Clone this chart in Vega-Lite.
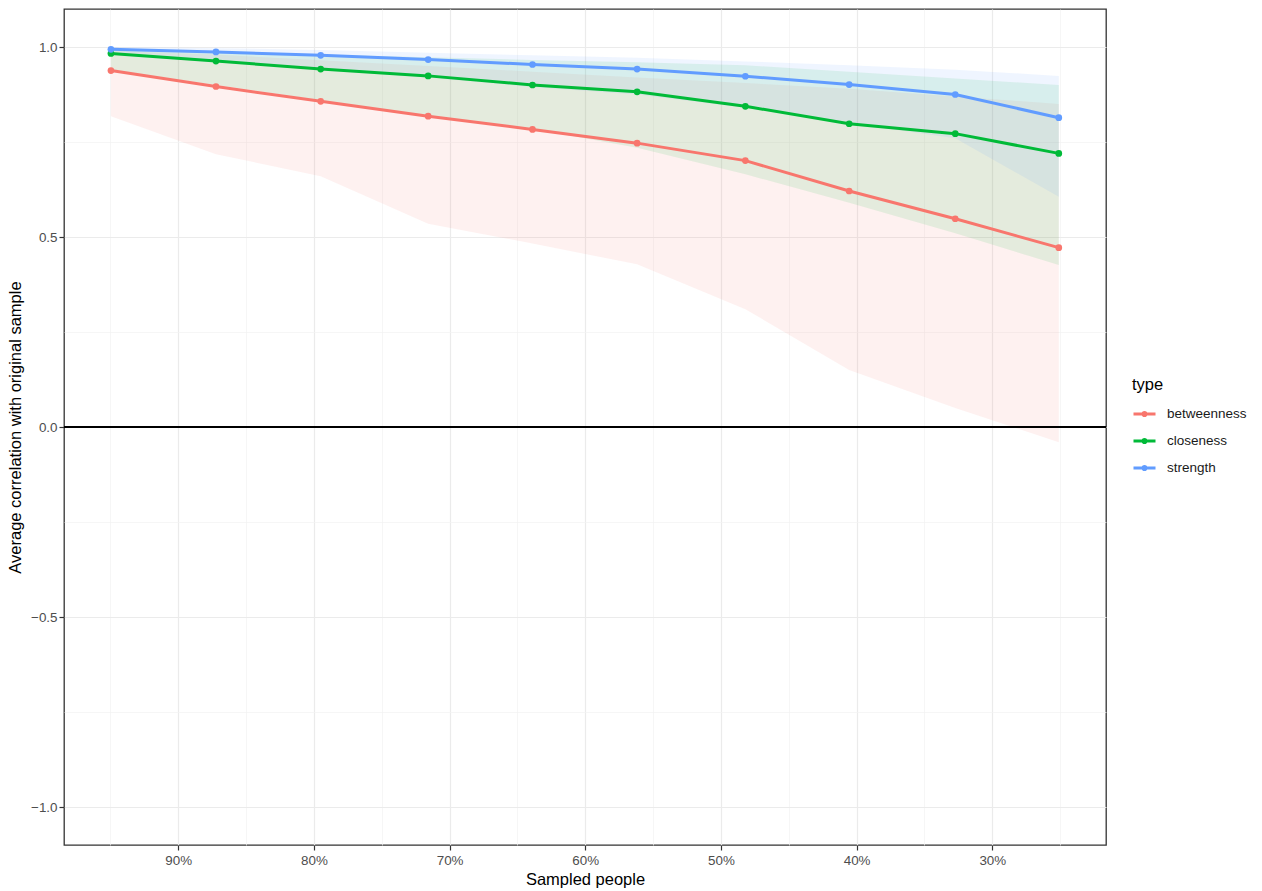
{
  "$schema": "https://vega.github.io/schema/vega-lite/v6.json",
  "width": 1042,
  "height": 836,
  "autosize": {"type": "none"},
  "padding": {"left": 64, "top": 9, "right": 156, "bottom": 46},
  "background": "white",
  "config": {
    "view": {"stroke": "#333333", "strokeWidth": 1.3},
    "font": "Liberation Sans",
    "axis": {
      "domain": false,
      "labelFont": "Liberation Sans",
      "labelFontSize": 13.4,
      "labelColor": "#4D4D4D",
      "tickColor": "#333333",
      "tickSize": 5,
      "tickWidth": 1.2,
      "titleFont": "Liberation Sans",
      "titleFontSize": 16.5,
      "titleFontWeight": "normal",
      "titleColor": "#000000"
    }
  },
  "data": {
    "values": [
      {"type": "betweenness", "sampled": 94.96, "mean": 0.938, "lower": 0.818, "upper": 0.99},
      {"type": "betweenness", "sampled": 87.22, "mean": 0.896, "lower": 0.718, "upper": 0.98},
      {"type": "betweenness", "sampled": 79.5, "mean": 0.857, "lower": 0.66, "upper": 0.965},
      {"type": "betweenness", "sampled": 71.58, "mean": 0.818, "lower": 0.535, "upper": 0.95},
      {"type": "betweenness", "sampled": 63.89, "mean": 0.783, "lower": 0.483, "upper": 0.935},
      {"type": "betweenness", "sampled": 56.18, "mean": 0.747, "lower": 0.428, "upper": 0.92},
      {"type": "betweenness", "sampled": 48.2, "mean": 0.701, "lower": 0.31, "upper": 0.905},
      {"type": "betweenness", "sampled": 40.55, "mean": 0.621, "lower": 0.15, "upper": 0.89},
      {"type": "betweenness", "sampled": 32.73, "mean": 0.548, "lower": 0.05, "upper": 0.87},
      {"type": "betweenness", "sampled": 25.1, "mean": 0.472, "lower": -0.04, "upper": 0.85},
      {"type": "closeness", "sampled": 94.96, "mean": 0.983, "lower": 0.94, "upper": 0.995},
      {"type": "closeness", "sampled": 87.22, "mean": 0.963, "lower": 0.9, "upper": 0.988},
      {"type": "closeness", "sampled": 79.5, "mean": 0.942, "lower": 0.86, "upper": 0.98},
      {"type": "closeness", "sampled": 71.58, "mean": 0.924, "lower": 0.82, "upper": 0.973},
      {"type": "closeness", "sampled": 63.89, "mean": 0.9, "lower": 0.785, "upper": 0.966},
      {"type": "closeness", "sampled": 56.18, "mean": 0.882, "lower": 0.735, "upper": 0.96},
      {"type": "closeness", "sampled": 48.2, "mean": 0.844, "lower": 0.665, "upper": 0.952},
      {"type": "closeness", "sampled": 40.55, "mean": 0.798, "lower": 0.59, "upper": 0.935},
      {"type": "closeness", "sampled": 32.73, "mean": 0.772, "lower": 0.51, "upper": 0.917},
      {"type": "closeness", "sampled": 25.1, "mean": 0.72, "lower": 0.426, "upper": 0.9},
      {"type": "strength", "sampled": 94.96, "mean": 0.994, "lower": 0.98, "upper": 1.0},
      {"type": "strength", "sampled": 87.22, "mean": 0.987, "lower": 0.96, "upper": 0.997},
      {"type": "strength", "sampled": 79.5, "mean": 0.978, "lower": 0.94, "upper": 0.992},
      {"type": "strength", "sampled": 71.58, "mean": 0.967, "lower": 0.92, "upper": 0.985},
      {"type": "strength", "sampled": 63.89, "mean": 0.954, "lower": 0.895, "upper": 0.978},
      {"type": "strength", "sampled": 56.18, "mean": 0.942, "lower": 0.875, "upper": 0.972},
      {"type": "strength", "sampled": 48.2, "mean": 0.923, "lower": 0.84, "upper": 0.962},
      {"type": "strength", "sampled": 40.55, "mean": 0.901, "lower": 0.8, "upper": 0.952},
      {"type": "strength", "sampled": 32.73, "mean": 0.875, "lower": 0.76, "upper": 0.94},
      {"type": "strength", "sampled": 25.1, "mean": 0.814, "lower": 0.606, "upper": 0.924}
    ]
  },
  "layer": [
    {
      "mark": {"type": "area", "fillOpacity": 0.1},
      "encoding": {
        "x": {
          "field": "sampled",
          "type": "quantitative",
          "scale": {"domain": [21.62, 98.42], "reverse": true, "nice": false, "zero": false},
          "axis": {
            "title": "Sampled people",
            "values": [25, 30, 35, 40, 45, 50, 55, 60, 65, 70, 75, 80, 85, 90, 95],
            "labelExpr": "datum.value % 10 === 0 ? datum.value + '%' : ''",
            "labelOverlap": false,
            "labelFlush": false,
            "labelPadding": 3,
            "titlePadding": 5,
            "grid": true,
            "tickOpacity": {"condition": {"test": "datum.value % 10 === 0", "value": 1}, "value": 0},
            "gridColor": {"condition": {"test": "datum.value % 10 === 0", "value": "#EBEBEB"}, "value": "#F2F2F2"},
            "gridWidth": {"condition": {"test": "datum.value % 10 === 0", "value": 1.2}, "value": 0.7}
          }
        },
        "y": {
          "field": "lower",
          "type": "quantitative",
          "scale": {"domain": [-1.1, 1.1], "nice": false, "zero": false},
          "axis": {
            "title": "Average correlation with original sample",
            "values": [-1, -0.75, -0.5, -0.25, 0, 0.25, 0.5, 0.75, 1],
            "labelExpr": "datum.value % 0.5 === 0 ? format(datum.value, '.1f') : ''",
            "labelOverlap": false,
            "labelFlush": false,
            "labelPadding": 2,
            "titlePadding": 7,
            "grid": true,
            "tickOpacity": {"condition": {"test": "datum.value % 0.5 === 0", "value": 1}, "value": 0},
            "gridColor": {"condition": {"test": "datum.value % 0.5 === 0", "value": "#EBEBEB"}, "value": "#F2F2F2"},
            "gridWidth": {"condition": {"test": "datum.value % 0.5 === 0", "value": 1.2}, "value": 0.7}
          }
        },
        "y2": {"field": "upper"},
        "color": {
          "field": "type",
          "type": "nominal",
          "scale": {"domain": ["betweenness", "closeness", "strength"], "range": ["#F8766D", "#00BA38", "#619CFF"]},
          "legend": {
            "title": "type",
            "orient": "none",
            "legendX": 1068,
            "legendY": 368,
            "titleFontSize": 16.5,
            "titleFont": "Liberation Sans",
            "titleFontWeight": "normal",
            "titleColor": "#000000",
            "titlePadding": 8,
            "labelFontSize": 13.5,
            "labelFont": "Liberation Sans",
            "labelColor": "#1A1A1A",
            "labelOffset": 10,
            "symbolType": "M-1,0H1M-0.14,0A0.14,0.14 0 1,0 0.14,0A0.14,0.14 0 1,0 -0.14,0",
            "symbolSize": 484,
            "symbolStrokeWidth": 3,
            "symbolOpacity": 1,
            "symbolFillColor": "transparent",
            "rowPadding": 6,
            "padding": 0,
            "encode": {
              "symbols": {
                "update": {
                  "fill": {"value": "transparent"},
                  "opacity": {"value": 1},
                  "fillOpacity": {"value": 1},
                  "strokeOpacity": {"value": 1},
                  "strokeWidth": {"value": 3},
                  "stroke": {"scale": "color", "field": "value"}
                }
              }
            }
          }
        }
      }
    },
    {
      "mark": {"type": "rule", "color": "#000000", "strokeWidth": 1.4},
      "encoding": {"y": {"datum": 0, "type": "quantitative"}}
    },
    {
      "mark": {"type": "line", "strokeWidth": 3},
      "encoding": {
        "x": {"field": "sampled", "type": "quantitative"},
        "y": {"field": "mean", "type": "quantitative"},
        "color": {"field": "type", "type": "nominal"}
      }
    },
    {
      "mark": {"type": "point", "filled": true, "size": 45, "opacity": 1},
      "encoding": {
        "x": {"field": "sampled", "type": "quantitative"},
        "y": {"field": "mean", "type": "quantitative"},
        "color": {"field": "type", "type": "nominal"}
      }
    }
  ]
}
